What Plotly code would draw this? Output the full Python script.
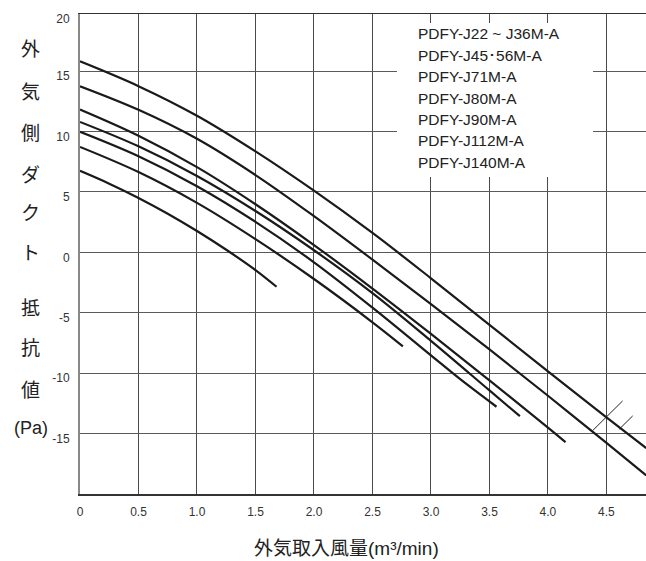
import plotly.graph_objects as go

# ---------------- data ----------------
models = ["PDFY-J22 ~ J36M-A", "PDFY-J45･56M-A", "PDFY-J71M-A", "PDFY-J80M-A",
          "PDFY-J90M-A", "PDFY-J112M-A", "PDFY-J140M-A"]

flow_J22 = [0, 0.25, 0.5, 0.75, 1.0, 1.25, 1.5, 1.68]
pres_J22 = [6.74, 5.68, 4.50, 3.19, 1.76, 0.21, -1.47, -2.85]

flow_J45 = [0, 0.5, 1.0, 1.5, 2.0, 2.5, 2.76]
pres_J45 = [8.72, 6.64, 4.09, 1.09, -2.21, -5.79, -7.78]

flow_J71 = [0, 0.5, 1.0, 1.5, 2.0, 2.5, 3.0, 3.25, 3.56]
pres_J71 = [9.97, 7.95, 5.47, 2.52, -0.83, -4.58, -8.53, -10.5, -12.78]

flow_J80 = [0, 0.5, 1.0, 1.5, 2.0, 2.5, 3.0, 3.5, 3.76]
pres_J80 = [10.79, 8.77, 6.32, 3.42, 0.17, -3.38, -7.33, -11.43, -13.56]

flow_J90 = [0, 0.5, 1.0, 1.5, 2.0, 2.5, 3.0, 3.5, 4.0, 4.15]
pres_J90 = [11.82, 9.65, 7.05, 3.98, 0.6, -3.0, -6.75, -10.6, -14.5, -15.7]

flow_J112 = [0, 0.5, 1.0, 1.5, 2.0, 2.5, 3.0, 3.5, 4.0, 4.5, 4.84]
pres_J112 = [13.74, 11.79, 9.39, 6.39, 2.99, -0.61, -4.29, -8.04, -11.87, -15.77, -18.46]

flow_J140 = [0, 0.5, 1.0, 1.5, 2.0, 2.5, 3.0, 3.5, 4.0, 4.5, 4.84]
pres_J140 = [15.8, 13.75, 11.3, 8.35, 5.1, 1.6, -2.15, -6.0, -9.85, -13.65, -16.2]

# break marks drawn across the two longest curves
mark1_x = [4.381, 4.638]
mark1_y = [-14.76, -12.30]
mark2_x = [4.609, 4.724]
mark2_y = [-14.64, -13.54]

x_tickvals = [0, 0.5, 1.0, 1.5, 2.0, 2.5, 3.0, 3.5, 4.0, 4.5]
x_ticktext = ["0", "0.5", "1.0", "1.5", "2.0", "2.5", "3.0", "3.5", "4.0", "4.5"]
y_tickvals = [-15, -10, -5, 0, 5, 10, 15, 19.72]
y_ticktext = ["-15", "-10", "-5", "0", "5", "10", "15", "20"]

y_title_chars = ["外", "気", "側", "ダ", "ク", "ト", "抵", "抗", "値", "(Pa)"]
x_title = "外気取入風量(m³/min)"

# ---------------- figure ----------------
W, H = 646, 561
PL, PT, PR, PB = 80, 14, 646, 494          # plot area in page pixels
L, T, R, B = PL, PT, W - PR, H - PB
pw, ph = PR - PL, PB - PT


def px2paper(px, py):
    return (px - PL) / pw, (PB - py) / ph


fig = go.Figure()

series = [(flow_J22, pres_J22), (flow_J45, pres_J45), (flow_J71, pres_J71),
          (flow_J80, pres_J80), (flow_J90, pres_J90), (flow_J112, pres_J112),
          (flow_J140, pres_J140)]
for name, (fx, fy) in zip(models, series):
    fig.add_trace(go.Scatter(x=fx, y=fy, mode="lines", name=name,
                             line=dict(color="#1a1a1a", width=2.2, shape="spline", smoothing=1.0),
                             showlegend=False, hoverinfo="skip"))

for mx, my in [(mark1_x, mark1_y), (mark2_x, mark2_y)]:
    fig.add_trace(go.Scatter(x=mx, y=my, mode="lines", showlegend=False,
                             line=dict(color="#222", width=1), hoverinfo="skip"))

annotations = []
title_rows_py = [50, 93, 133, 175, 213, 253, 308, 348, 390, 428]
for ch, py in zip(y_title_chars, title_rows_py):
    xp, yp = px2paper(30.5, py)
    annotations.append(dict(x=xp, y=yp, xref="paper", yref="paper", text=ch,
                            showarrow=False, xanchor="center", yanchor="middle",
                            font=dict(size=19 if ch != "(Pa)" else 18,
                                      family="Liberation Sans, Noto Sans CJK JP",
                                      color="#222")))

xp, yp = px2paper(346, 548)
annotations.append(dict(x=xp, y=yp, xref="paper", yref="paper", text=x_title,
                        showarrow=False, xanchor="center", yanchor="middle",
                        font=dict(size=19, family="Liberation Sans, Noto Sans CJK JP",
                                  color="#222")))

legend_py = [34, 55.4, 76.8, 98.2, 119.6, 141, 162.4]
for name, py in zip(models, legend_py):
    xp, yp = px2paper(416, py)
    annotations.append(dict(x=xp, y=yp, xref="paper", yref="paper", text=name,
                            showarrow=False, xanchor="left", yanchor="middle",
                            font=dict(size=15.5, family="Liberation Sans, Arial",
                                      color="#222")))

bx0, by0 = px2paper(397, 23)
bx1, by1 = px2paper(593, 177)
shapes = [dict(type="rect", xref="paper", yref="paper", x0=bx0, x1=bx1, y0=by1, y1=by0,
               fillcolor="white", line=dict(width=0), layer="above")]

fig.update_layout(
    width=W, height=H,
    margin=dict(l=L, r=R, t=T, b=B, pad=0),
    paper_bgcolor="white", plot_bgcolor="white",
    annotations=annotations, shapes=shapes,
    font=dict(family="Liberation Sans, Arial", color="#333"),
    xaxis=dict(range=[0, 4.838], tickvals=x_tickvals, ticktext=x_ticktext,
               showgrid=True, gridcolor="#4a4a4a", gridwidth=1,
               showline=True, linecolor="#333", linewidth=1.5, mirror=True,
               zeroline=False, ticks="", ticklabelstandoff=6,
               tickfont=dict(size=12, color="#333")),
    yaxis=dict(range=[-20, 19.72], tickvals=y_tickvals, ticktext=y_ticktext,
               showgrid=True, gridcolor="#5a5a5a", gridwidth=1,
               showline=True, linecolor="#888", linewidth=2, mirror=False,
               zeroline=False, ticks="", ticklabelstandoff=6, ticklabelshift=5,
               tickfont=dict(size=12, color="#333")),
)

# remove the default 8px page margin so the figure fills the window exactly
fig.write_html("out.html",
               config={"displayModeBar": False, "staticPlot": True},
               post_script="document.body.style.margin='0';"
                           "document.body.style.overflow='hidden';"
                           "document.documentElement.style.overflow='hidden';")
